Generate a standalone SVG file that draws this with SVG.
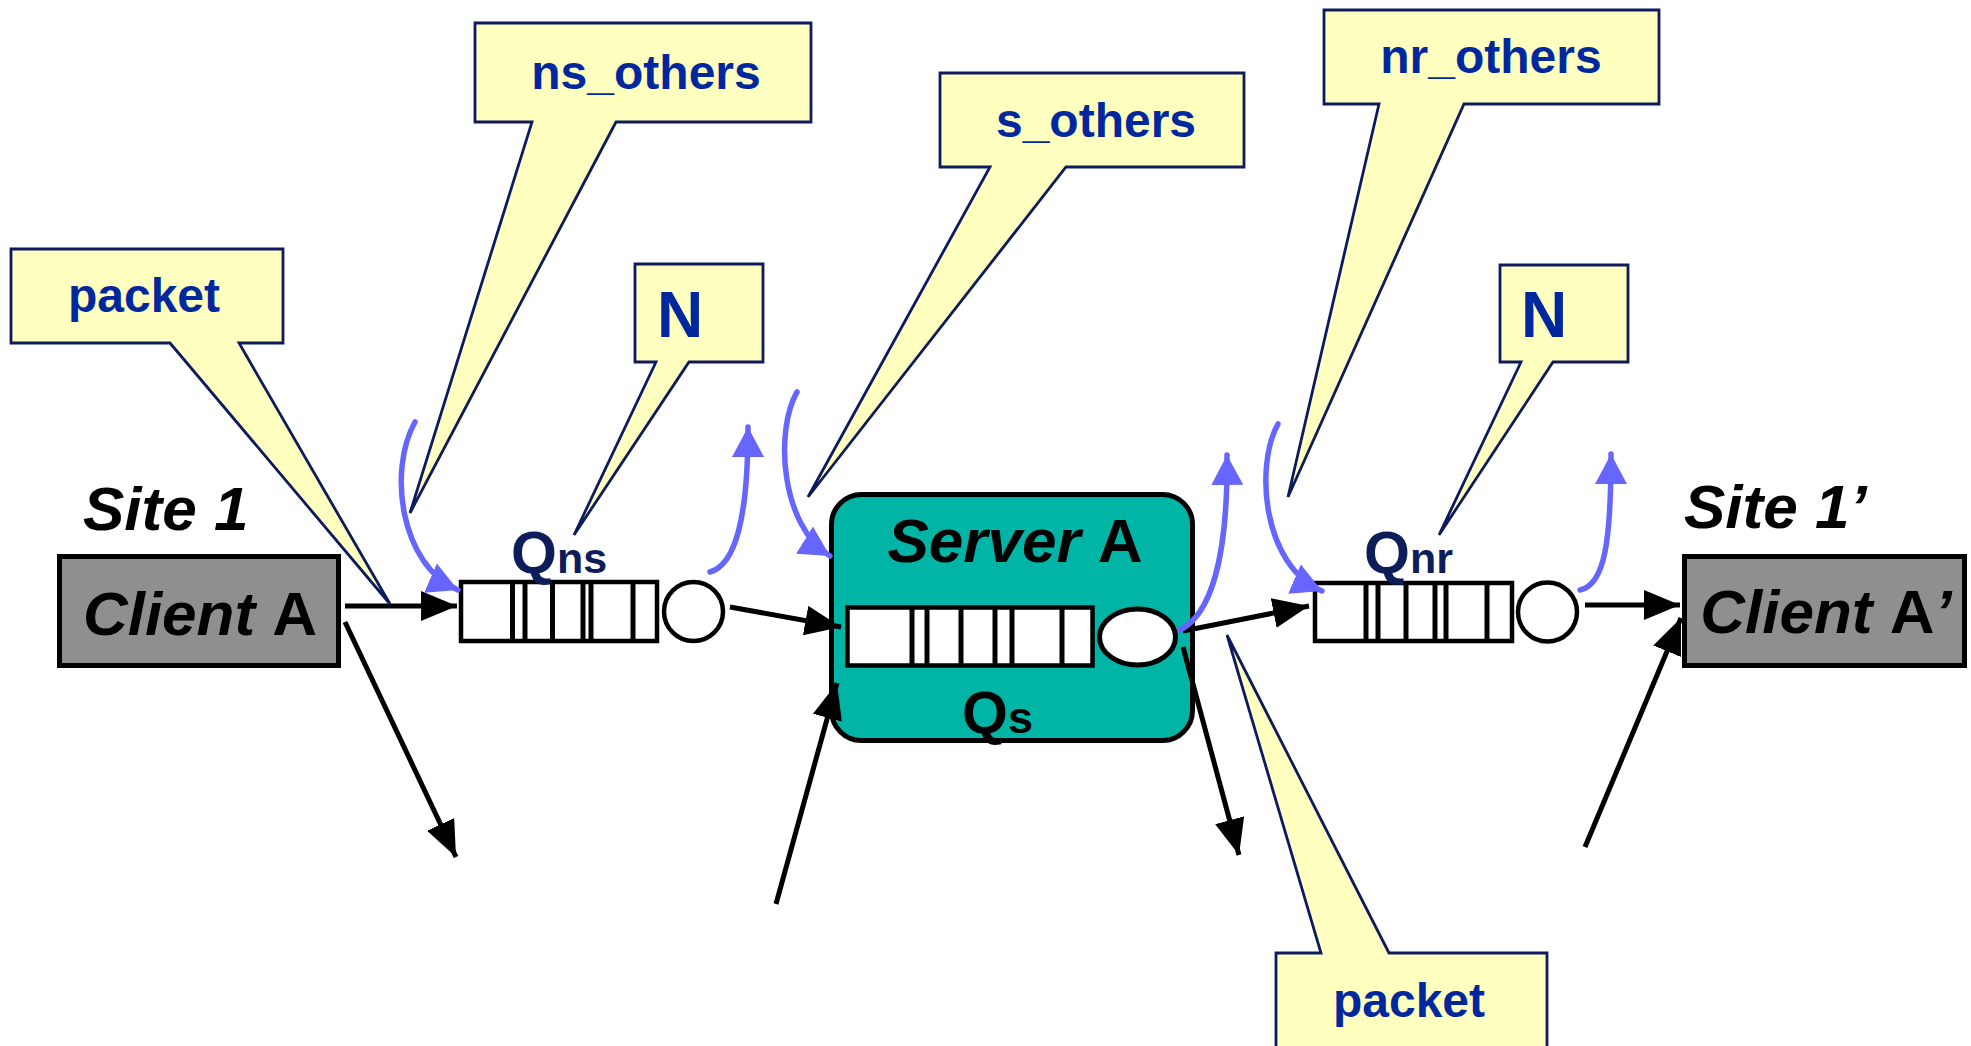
<svg xmlns="http://www.w3.org/2000/svg" width="1971" height="1046" viewBox="0 0 1971 1046">
<style>
.callout{fill:#ffffbf;stroke:#0d1b5e;stroke-width:2.8}
.ctext{font-family:'Liberation Sans',Arial,sans-serif;font-weight:bold;fill:#00289e;text-anchor:middle}
.big{font-family:'Liberation Sans',Arial,sans-serif;font-weight:bold;font-style:italic;fill:#000}
.up{font-style:normal}
.qlab{font-family:'Liberation Sans',Arial,sans-serif;font-weight:bold}
.client{fill:#8f8f8f;stroke:#000;stroke-width:5}
.qrect{fill:#fff;stroke:#000;stroke-width:4.5}
.bar{stroke:#000;stroke-width:5}
.blk{fill:none;stroke:#000;stroke-width:5;marker-end:url(#ah)}
.blu{fill:none;stroke:#6666ff;stroke-width:5.5;stroke-linecap:round;marker-end:url(#bh)}
</style>
<defs>
<marker id="ah" viewBox="0 0 10 10" refX="10" refY="5" markerUnits="userSpaceOnUse" markerWidth="36" markerHeight="30" orient="auto" preserveAspectRatio="none">
<path d="M0,0 L10,5 L0,10 Z" fill="#000"/>
</marker>
<marker id="bh" viewBox="0 0 10 10" refX="10" refY="5" markerUnits="userSpaceOnUse" markerWidth="30" markerHeight="32" orient="auto" preserveAspectRatio="none">
<path d="M0,0 L10,5 L0,10 Z" fill="#6666ff"/>
</marker>
</defs>
<rect width="1971" height="1046" fill="#fff"/>

<g id="server-a">
<rect x="831.5" y="494.5" width="361" height="246" rx="30" fill="#00b4a6" stroke="#000" stroke-width="5"/>
<text class="big" x="1015" y="562" font-size="62" text-anchor="middle">Server <tspan class="up">A</tspan></text>
<rect x="847.5" y="607.5" width="245" height="58" class="qrect" stroke-width="5"/>
<line class="bar" x1="912" y1="607" x2="912" y2="666"/>
<line class="bar" x1="927" y1="607" x2="927" y2="666"/>
<line class="bar" x1="961" y1="607" x2="961" y2="666"/>
<line class="bar" x1="995" y1="607" x2="995" y2="666"/>
<line class="bar" x1="1012" y1="607" x2="1012" y2="666"/>
<line class="bar" x1="1062" y1="607" x2="1062" y2="666"/>
<ellipse cx="1137.5" cy="637" rx="38" ry="28" fill="#fff" stroke="#000" stroke-width="5"/>
<text class="qlab" x="962" y="733" fill="#000"><tspan font-size="59">Q</tspan><tspan font-size="45">s</tspan></text>
</g>

<g id="client-a">
<text class="big" x="83" y="530" font-size="62">Site 1</text>
<rect class="client" x="59.5" y="556.5" width="279" height="109"/>
<text class="big" x="200" y="635" font-size="62" text-anchor="middle">Client <tspan class="up">A</tspan></text>
</g>

<g id="client-a-prime">
<text class="big" x="1684" y="528" font-size="62">Site 1’</text>
<rect class="client" x="1684.5" y="556.5" width="280" height="109"/>
<text class="big" x="1826" y="633" font-size="62" text-anchor="middle">Client <tspan class="up">A</tspan>’</text>
</g>

<g id="queue-ns">
<rect class="qrect" x="461" y="582" width="196" height="59"/>
<line class="bar" x1="512.5" y1="582" x2="512.5" y2="641"/>
<line class="bar" x1="525" y1="582" x2="525" y2="641"/>
<line class="bar" x1="552.5" y1="582" x2="552.5" y2="641"/>
<line class="bar" x1="583" y1="582" x2="583" y2="641"/>
<line class="bar" x1="591" y1="582" x2="591" y2="641"/>
<line class="bar" x1="633" y1="582" x2="633" y2="641"/>
<circle cx="693.5" cy="611.5" r="29.5" fill="#fff" stroke="#000" stroke-width="4.5"/>
<text class="qlab" x="511" y="573" fill="#0c1d5a"><tspan font-size="59">Q</tspan><tspan font-size="43">ns</tspan></text>
</g>

<g id="queue-nr">
<rect class="qrect" x="1315" y="583" width="197" height="58"/>
<line class="bar" x1="1366" y1="583" x2="1366" y2="641"/>
<line class="bar" x1="1378" y1="583" x2="1378" y2="641"/>
<line class="bar" x1="1406" y1="583" x2="1406" y2="641"/>
<line class="bar" x1="1435" y1="583" x2="1435" y2="641"/>
<line class="bar" x1="1446" y1="583" x2="1446" y2="641"/>
<line class="bar" x1="1487" y1="583" x2="1487" y2="641"/>
<circle cx="1547.5" cy="612" r="29.5" fill="#fff" stroke="#000" stroke-width="4.5"/>
<text class="qlab" x="1364" y="573" fill="#0c1d5a"><tspan font-size="59">Q</tspan><tspan font-size="43">nr</tspan></text>
</g>

<g id="connectors">
<line class="blk" x1="345" y1="606" x2="457" y2="606"/>
<line class="blk" x1="345" y1="622" x2="456" y2="857"/>
<line class="blk" x1="730" y1="607" x2="841" y2="627"/>
<line class="blk" x1="776" y1="904" x2="837" y2="683"/>
<line class="blk" x1="1183" y1="647" x2="1239" y2="855"/>
<line class="blk" x1="1183" y1="631" x2="1309" y2="606"/>
<line class="blk" x1="1585" y1="605" x2="1680" y2="605"/>
<line class="blk" x1="1585" y1="847" x2="1681" y2="618"/>
<path class="blu" d="M415,422 C388,470 400,565 458,590"/>
<path class="blu" d="M710,572 C735,565 748,520 748,427"/>
<path class="blu" d="M797,392 C775,430 780,525 830,556"/>
<path class="blu" d="M1180,630 C1210,615 1228,560 1227,455"/>
<path class="blu" d="M1278,424 C1255,465 1262,565 1322,591"/>
<path class="blu" d="M1580,590 C1605,585 1611,540 1611,454"/>
</g>

<g id="callout-packet-1">
<path class="callout" d="M11,249 H283 V343 H239 L390,604 L170,343 H11 Z"/>
<text class="ctext" x="144" y="312" font-size="48">packet</text>
</g>
<g id="callout-ns-others">
<path class="callout" d="M475,23 H811 V122 H616 L410,513 L532,122 H475 Z"/>
<text class="ctext" x="646" y="89" font-size="48">ns_others</text>
</g>
<g id="callout-n-1">
<path class="callout" d="M635,264 H763 V362 H689 L574,535 L656,362 H635 Z"/>
<text class="ctext" x="680" y="337" font-size="64">N</text>
</g>
<g id="callout-s-others">
<path class="callout" d="M940,73 H1244 V167 H1066 L808,497 L990,167 H940 Z"/>
<text class="ctext" x="1096" y="137" font-size="48">s_others</text>
</g>
<g id="callout-nr-others">
<path class="callout" d="M1324,10 H1659 V104 H1464 L1288,497 L1379,104 H1324 Z"/>
<text class="ctext" x="1491" y="73" font-size="48">nr_others</text>
</g>
<g id="callout-n-2">
<path class="callout" d="M1500,265 H1628 V362 H1553 L1439,535 L1521,362 H1500 Z"/>
<text class="ctext" x="1544" y="337" font-size="64">N</text>
</g>
<g id="callout-packet-2">
<path class="callout" d="M1276,953 H1321 L1227,635 L1389,953 H1547 V1060 H1276 Z"/>
<text class="ctext" x="1409" y="1017" font-size="48">packet</text>
</g>
</svg>
